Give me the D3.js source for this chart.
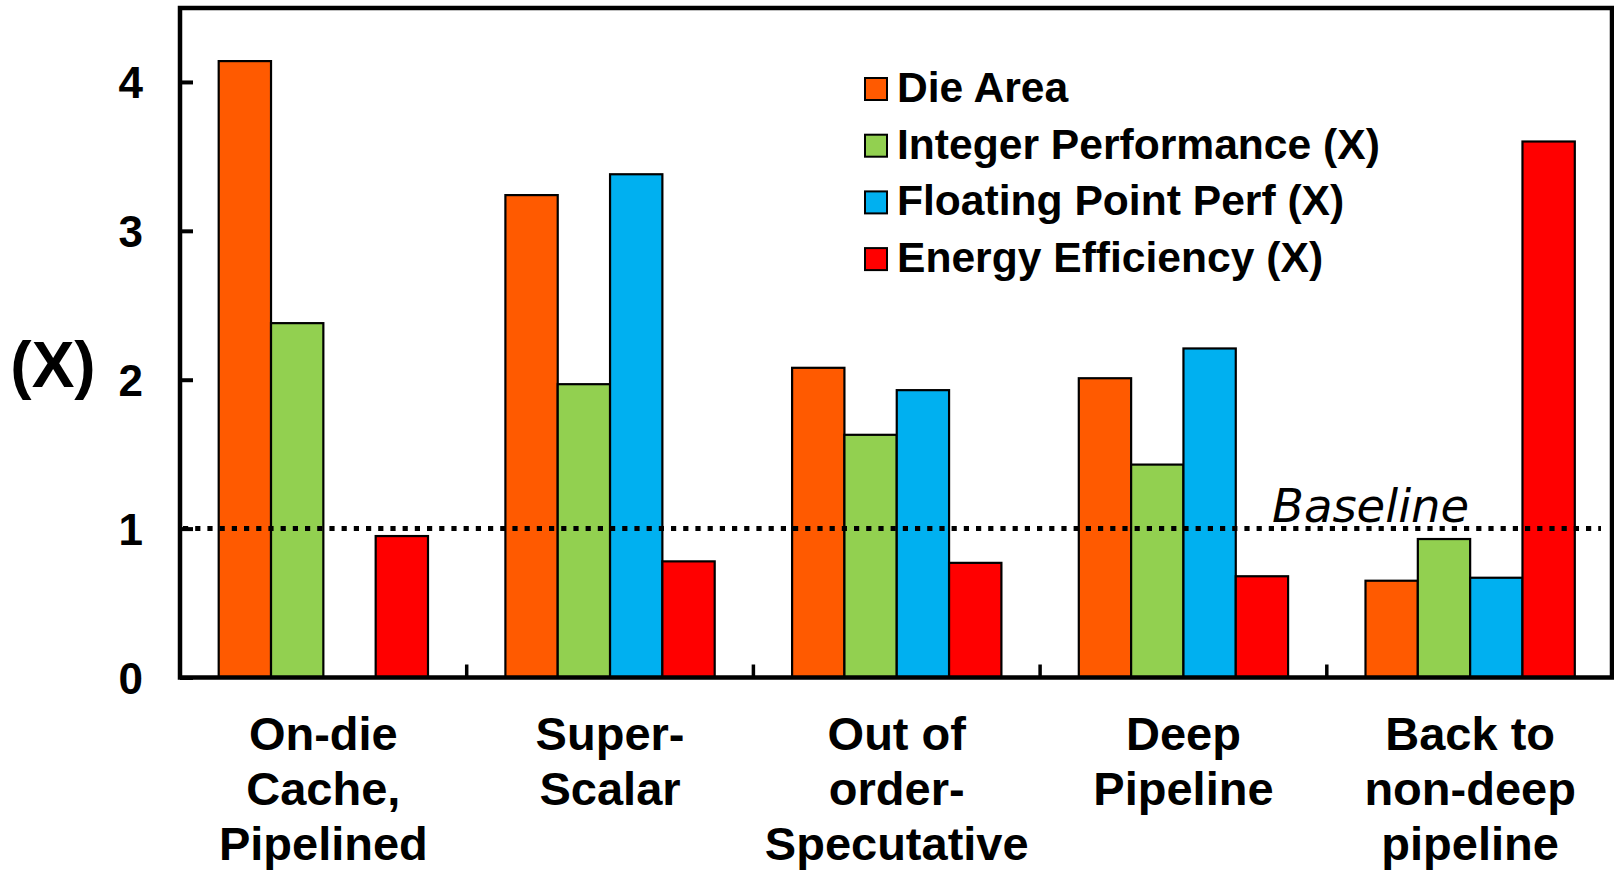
<!DOCTYPE html>
<html>
<head>
<meta charset="utf-8">
<script src="https://cdn.jsdelivr.net/npm/d3@7"></script>
<style>
  html, body { margin: 0; padding: 0; background: #fff; }
  svg { display: block; }
</style>
</head>
<body>
<svg id="chart" width="1614" height="871"></svg>
<script>
// ---- data ----
const categories = ["On-die Cache, Pipelined", "Super-Scalar", "Out of order-Specutative", "Deep Pipeline", "Back to non-deep pipeline"];
const categoryLines = [
  ["On-die", "Cache,", "Pipelined"],
  ["Super-", "Scalar"],
  ["Out of", "order-", "Specutative"],
  ["Deep", "Pipeline"],
  ["Back to", "non-deep", "pipeline"]
];
const seriesNames = ["Die Area", "Integer Performance (X)", "Floating Point Perf (X)", "Energy Efficiency (X)"];
const dieArea    = [4.14, 3.24, 2.08, 2.01, 0.65];
const intPerf    = [2.38, 1.97, 1.63, 1.43, 0.93];
const fpPerf     = [null, 3.38, 1.93, 2.21, 0.67];
const energyEff  = [0.95, 0.78, 0.77, 0.68, 3.60];
const seriesValues = [dieArea, intPerf, fpPerf, energyEff];
const seriesColors = ["#FF5A00", "#92D050", "#00B0F0", "#FF0000"];
const yTicks = [0, 1, 2, 3, 4];
const baselineValue = 1;

// ---- layout ----
(function () {
const svg = d3.select("#chart");
const pLeft = 180, pRight = 1613.5, pTop = 7.5, pBottom = 677.5;

const x = d3.scaleBand().domain(categories).range([pLeft, pRight]).paddingInner(0).paddingOuter(0);
const bw = x.bandwidth();
const groupPad = 38.7;
const xs = d3.scaleBand().domain(seriesNames).range([groupPad, bw - groupPad]).padding(0);
const y = d3.scaleLinear().domain([0, 4.5]).range([pBottom, pTop]);

// bars
const data = [];
categories.forEach((c, ci) => {
  seriesNames.forEach((s, si) => {
    const v = seriesValues[si][ci];
    if (v !== null && v !== undefined) data.push({ c, s, v, color: seriesColors[si] });
  });
});
svg.append("g").selectAll("rect").data(data).join("rect")
  .attr("x", d => x(d.c) + xs(d.s))
  .attr("y", d => y(d.v))
  .attr("width", xs.bandwidth())
  .attr("height", d => y(0) - y(d.v))
  .attr("fill", d => d.color)
  .attr("stroke", "#000")
  .attr("stroke-width", 2.2);

// baseline dotted
svg.append("line")
  .attr("x1", pLeft + 3).attr("x2", 1601)
  .attr("y1", y(baselineValue)).attr("y2", y(baselineValue))
  .attr("stroke", "#000").attr("stroke-width", 5)
  .attr("stroke-dasharray", "5.2 7");

svg.append("text")
  .attr("x", 1272).attr("y", y(baselineValue) - 7)
  .attr("font-family", "DejaVu Sans")
  .attr("font-style", "italic")
  .attr("font-size", 46.5)
  .attr("fill", "#000")
  .text("Baseline");

// frame
svg.append("rect")
  .attr("x", pLeft).attr("y", 8)
  .attr("width", 1612 - pLeft).attr("height", pBottom - 8)
  .attr("fill", "none").attr("stroke", "#000").attr("stroke-width", 4.5);

// y axis
const yAxis = d3.axisLeft(y).tickValues(yTicks).tickSizeInner(-13).tickSizeOuter(0).tickPadding(37).tickFormat(d3.format("d"));
const gy = svg.append("g").attr("transform", `translate(${pLeft},0)`).call(yAxis);
gy.select(".domain").remove();
gy.selectAll(".tick line").attr("stroke", "#000").attr("stroke-width", 4);
gy.selectAll(".tick text")
  .attr("font-family", "Liberation Sans, Arial, sans-serif")
  .attr("font-weight", "bold")
  .attr("font-size", 44)
  .attr("fill", "#000")
  .attr("dy", "0.36em");

// x ticks at category boundaries
svg.append("g").selectAll("line").data(categories.slice(1)).join("line")
  .attr("x1", d => x(d)).attr("x2", d => x(d))
  .attr("y1", pBottom).attr("y2", pBottom - 13)
  .attr("stroke", "#000").attr("stroke-width", 3.5);

// x labels
const lineBaselines = [750, 805, 860];
const xl = svg.append("g");
categories.forEach((c, ci) => {
  const t = xl.append("text")
    .attr("text-anchor", "middle")
    .attr("font-family", "Liberation Sans, Arial, sans-serif")
    .attr("font-weight", "bold")
    .attr("font-size", 47)
    .attr("fill", "#000");
  categoryLines[ci].forEach((ln, li) => {
    t.append("tspan").attr("x", x(c) + bw / 2).attr("y", lineBaselines[li]).text(ln);
  });
});

// y axis title
svg.append("text")
  .attr("x", 53).attr("y", 387)
  .attr("text-anchor", "middle")
  .attr("font-family", "Liberation Sans, Arial, sans-serif")
  .attr("font-weight", "bold")
  .attr("font-size", 64)
  .attr("fill", "#000")
  .text("(X)");

// legend
const legend = svg.append("g");
seriesNames.forEach((s, i) => {
  const baseY = 102 + i * 56.7;
  legend.append("rect")
    .attr("x", 865).attr("y", baseY - 24)
    .attr("width", 22).attr("height", 22)
    .attr("fill", seriesColors[i])
    .attr("stroke", "#000").attr("stroke-width", 2);
  legend.append("text")
    .attr("x", 897).attr("y", baseY)
    .attr("font-family", "Liberation Sans, Arial, sans-serif")
    .attr("font-weight", "bold")
    .attr("font-size", 42.6)
    .attr("fill", "#000")
    .text(s);
});
})();
</script>
</body>
</html>
